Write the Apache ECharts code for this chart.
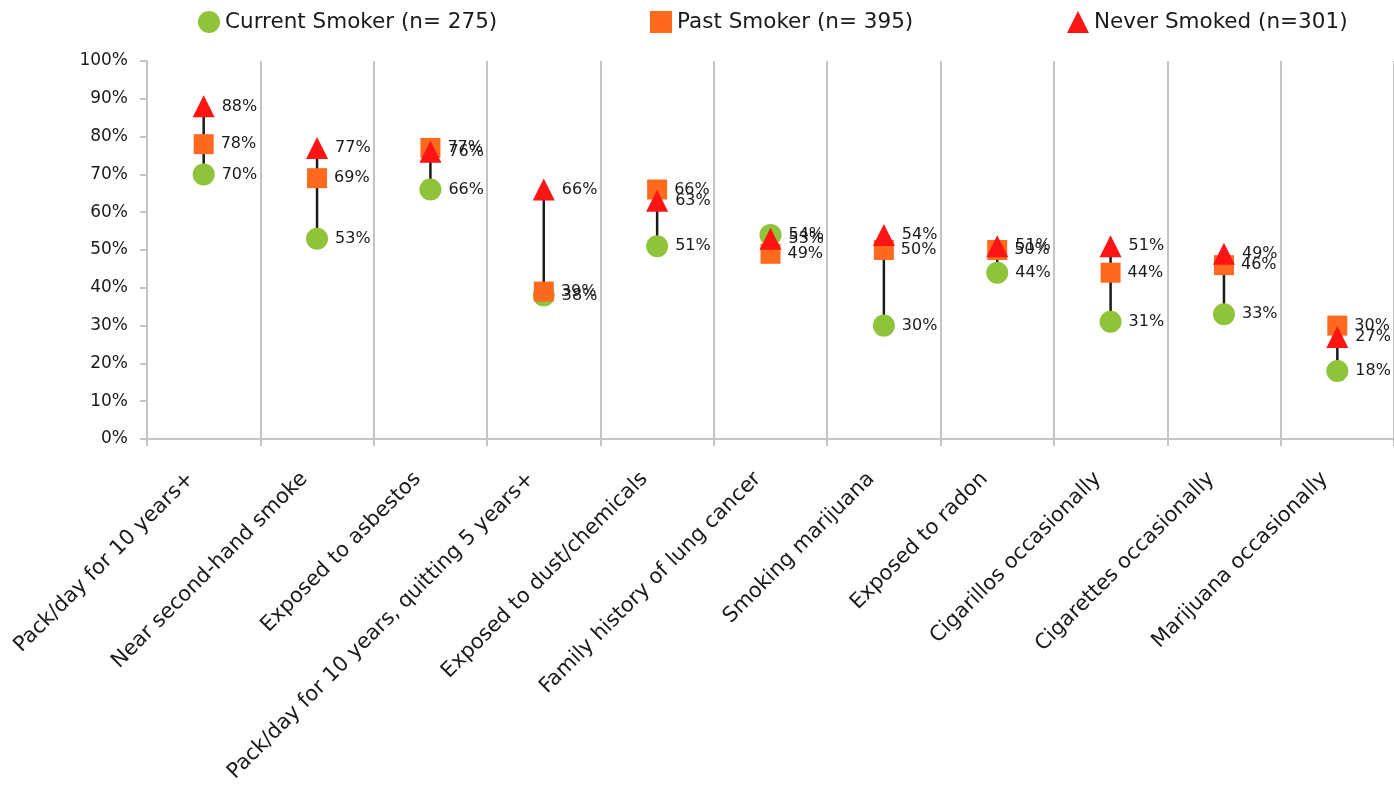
<!DOCTYPE html>
<html>
<head>
<meta charset="utf-8">
<script src="https://cdn.jsdelivr.net/npm/echarts@6/dist/echarts.min.js"></script>
<style>
  html, body { margin: 0; padding: 0; background: #fff; }
  #riskChart { width: 1394px; height: 798px; }
</style>
</head>
<body>
<div id="riskChart"></div>
<script>
const categories = [
  'Pack/day for 10 years+',
  'Near second-hand smoke',
  'Exposed to asbestos',
  'Pack/day for 10 years, quitting 5 years+',
  'Exposed to dust/chemicals',
  'Family history of lung cancer',
  'Smoking marijuana',
  'Exposed to radon',
  'Cigarillos occasionally',
  'Cigarettes occasionally',
  'Marijuana occasionally',
]
const currentSmoker = [70, 53, 66, 38, 51, 54, 30, 44, 31, 33, 18]
const pastSmoker = [78, 69, 77, 39, 66, 49, 50, 50, 44, 46, 30]
const neverSmoked = [88, 77, 76, 66, 63, 53, 54, 51, 51, 49, 27]
const yTicks = [0, 10, 20, 30, 40, 50, 60, 70, 80, 90, 100]

const FONT = 'DejaVu Sans'
const chart = echarts.init(document.getElementById('riskChart'))

// min/max per category for the black connector
const ranges = categories.map((c, i) => {
  const v = [currentSmoker[i], pastSmoker[i], neverSmoked[i]]
  return [i, Math.min(...v), Math.max(...v)]
})

const pointLabel = {
  show: true,
  position: 'right',
  distance: 7,
  formatter: p => p.value + '%',
  color: '#1a1a1a',
  fontFamily: FONT,
  fontSize: 16,
}

const legendBase = {
  top: 6,
  itemWidth: 22,
  itemHeight: 22,
  itemGap: 6,
  textStyle: { fontFamily: FONT, fontSize: 21.5, color: '#1a1a1a' },
}

const option = {
  backgroundColor: '#fff',
  animation: false,
  legend: [
    { ...legendBase, left: 193, data: ['Current Smoker (n= 275)'] },
    { ...legendBase, left: 645, data: ['Past Smoker (n= 395)'] },
    { ...legendBase, left: 1062, data: ['Never Smoked (n=301)'] },
  ],
  grid: {
    left: 147,
    right: 0,
    top: 61,
    bottom: 359,
    containLabel: false,
  },
  xAxis: {
    type: 'category',
    data: categories,
    boundaryGap: true,
    axisLine: { show: true, lineStyle: { color: '#c4c4c4', width: 2 } },
    axisTick: { show: true, length: 7, lineStyle: { color: '#c4c4c4', width: 2 } },
    splitLine: { show: true, lineStyle: { color: '#c4c4c4', width: 2 } },
    axisLabel: {
      interval: 0,
      rotate: 45,
      margin: 24,
      padding: [0, 18, 0, 0],
      color: '#1a1a1a',
      fontFamily: FONT,
      fontSize: 21,
    },
  },
  yAxis: {
    type: 'value',
    min: 0,
    max: 100,
    interval: 10,
    axisLine: { show: true, lineStyle: { color: '#c4c4c4', width: 2 } },
    axisTick: { show: true, length: 7, lineStyle: { color: '#c4c4c4', width: 2 } },
    splitLine: { show: false },
    axisLabel: {
      margin: 19,
      color: '#1a1a1a',
      fontFamily: FONT,
      fontSize: 17,
      formatter: v => (yTicks.includes(v) ? v + '%' : ''),
    },
  },
  series: [
    {
      name: 'range',
      type: 'custom',
      z: 1,
      silent: true,
      data: ranges,
      renderItem: (params, api) => {
        const lo = api.coord([api.value(0), api.value(1)])
        const hi = api.coord([api.value(0), api.value(2)])
        return {
          type: 'line',
          shape: { x1: lo[0], y1: lo[1], x2: hi[0], y2: hi[1] },
          style: { stroke: '#1a1a1a', lineWidth: 2.5 },
        }
      },
    },
    {
      name: 'Current Smoker (n= 275)',
      type: 'scatter',
      z: 3,
      symbol: 'circle',
      symbolSize: 22,
      itemStyle: { color: '#8fc43a', opacity: 1 },
      label: pointLabel,
      data: currentSmoker,
    },
    {
      name: 'Past Smoker (n= 395)',
      type: 'scatter',
      z: 4,
      symbol: 'rect',
      symbolSize: 20,
      itemStyle: { color: '#ff6a1f', opacity: 1 },
      label: pointLabel,
      data: pastSmoker,
    },
    {
      name: 'Never Smoked (n=301)',
      type: 'scatter',
      z: 5,
      symbol: 'triangle',
      symbolSize: 22,
      itemStyle: { color: '#ff1414', opacity: 1 },
      label: pointLabel,
      data: neverSmoked,
    },
  ],
}

chart.setOption(option)
</script>
</body>
</html>
